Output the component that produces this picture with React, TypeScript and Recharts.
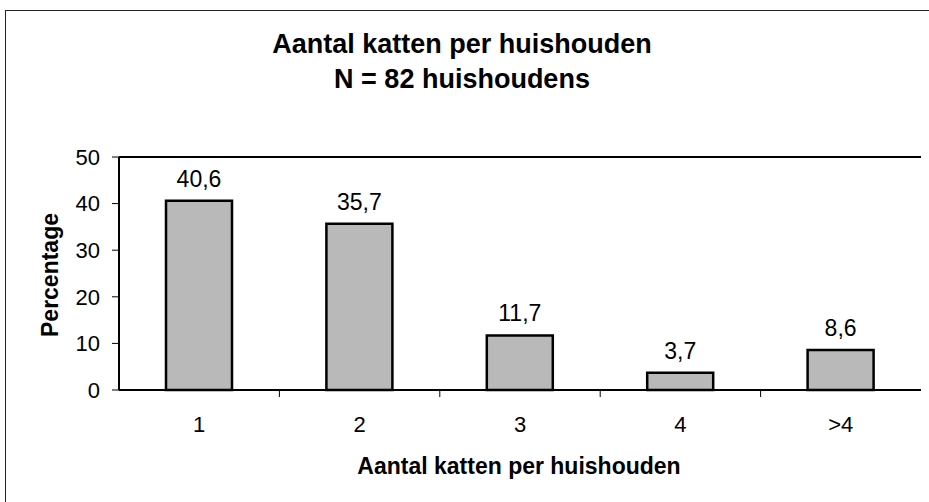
import React from 'react';
import {
    BarChart,
    Bar,
    XAxis,
    YAxis,
    LabelList,
    ReferenceLine,
    Label,
} from 'recharts';

const categories = ['1', '2', '3', '4', '>4'];
const percentages = [40.6, 35.7, 11.7, 3.7, 8.6];
const yTicks = [0, 10, 20, 30, 40, 50];

const data = categories.map((cat, i) => ({ cat, pct: percentages[i] }));

const FONT = '"Liberation Sans", Arial, sans-serif';

// tick text plus a small tick mark on the boundary between categories
const CatTick = (props: any) => {
    const { x, y, payload, index } = props;
    const half = payload?.offset ?? 0;
    return (
        <g>
            <text x={x} y={y} dy="0.71em" textAnchor="middle" fontSize={22} fill="#000" fontFamily={FONT}>
                {payload.value}
            </text>
            {index < categories.length - 1 && half > 0 && (
                <line x1={x + half} x2={x + half} y1={y - 26} y2={y - 19} stroke="#000" strokeWidth={1} />
            )}
        </g>
    );
};

const App: React.FC = () => {
    return (
        <div style={{ position: 'absolute', left: 0, top: 0, width: 929, height: 502, background: '#fff', fontFamily: FONT }}>
            {/* outer frame (only left and top edges visible) */}
            <div style={{ position: 'absolute', left: 5, top: 10, width: 940, height: 520, borderLeft: '1.5px solid #222', borderTop: '1.5px solid #222' }} />

            {/* Title */}
            <div style={{ position: 'absolute', left: 0, top: 27, width: 924, textAlign: 'center', fontWeight: 'bold', fontSize: 27, lineHeight: '35px', color: '#000' }}>
                Aantal katten per huishouden
                <br />
                N = 82 huishoudens
            </div>

            <div style={{ position: 'absolute', left: 0, top: 0 }}>
                <BarChart
                    width={929}
                    height={502}
                    data={data}
                    margin={{ top: 157, right: 8, bottom: 0, left: 0 }}
                    barCategoryGap={0}
                >
                    <XAxis
                        dataKey="cat"
                        height={112}
                        tickLine={false}
                        tickSize={0}
                        tickMargin={26}
                        axisLine={{ stroke: '#000', strokeWidth: 2 }}
                        tick={<CatTick />}
                        interval={0}
                    >
                        <Label
                            content={() => (
                                <text x={519} y={474} textAnchor="middle" fontSize={23} fontWeight="bold" fill="#000" fontFamily={FONT}>
                                    Aantal katten per huishouden
                                </text>
                            )}
                        />
                    </XAxis>
                    <YAxis
                        width={119}
                        domain={[0, 50]}
                        ticks={yTicks}
                        interval={0}
                        tickSize={7}
                        tickMargin={12}
                        tick={{ fontSize: 22, fill: '#000', fontFamily: FONT }}
                        tickLine={{ stroke: '#000' }}
                        axisLine={{ stroke: '#000', strokeWidth: 2 }}
                    >
                        <Label
                            content={() => (
                                <text
                                    x={0}
                                    y={0}
                                    transform="translate(58, 275) rotate(-90)"
                                    textAnchor="middle"
                                    fontSize={23}
                                    fontWeight="bold"
                                    fill="#000"
                                    fontFamily={FONT}
                                >
                                    Percentage
                                </text>
                            )}
                        />
                    </YAxis>
                    <YAxis
                        yAxisId="r"
                        orientation="right"
                        width={0}
                        domain={[0, 50]}
                        tick={false}
                        tickLine={false}
                        axisLine={{ stroke: '#000', strokeWidth: 2 }}
                    />
                    <ReferenceLine y={50} stroke="#000" strokeWidth={2} />
                    <Bar
                        dataKey="pct"
                        barSize={66}
                        fill="#b9b9b9"
                        stroke="#000"
                        strokeWidth={2.5}
                        isAnimationActive={false}
                    >
                        <LabelList
                            dataKey="pct"
                            position="top"
                            offset={14}
                            formatter={(v: any) => String(v).replace('.', ',')}
                            style={{ fontSize: 23, fill: '#000', fontFamily: FONT }}
                        />
                    </Bar>
                </BarChart>
            </div>
        </div>
    );
};

export default App;
